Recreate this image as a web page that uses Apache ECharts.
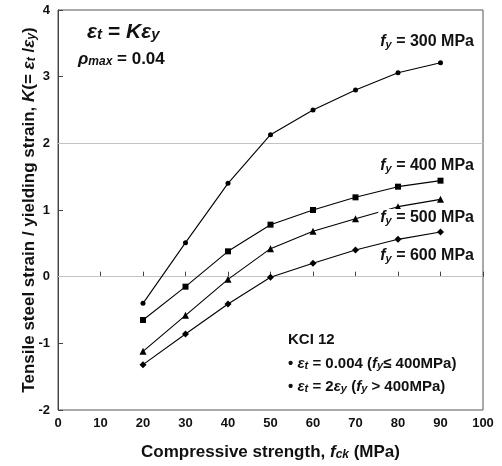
<!DOCTYPE html>
<html><head><meta charset="utf-8">
<script src="https://cdn.jsdelivr.net/npm/echarts@6/dist/echarts.min.js"></script>
<style>html,body{margin:0;padding:0;background:#fff}#c{width:502px;height:466px}</style>
</head><body><div id="c"></div>
<script>
const fck = [20, 30, 40, 50, 60, 70, 80, 90];
const k300 = [-0.40, 0.51, 1.40, 2.13, 2.50, 2.80, 3.06, 3.21];
const k400 = [-0.65, -0.15, 0.38, 0.78, 1.00, 1.19, 1.35, 1.44];
const k500 = [-1.12, -0.58, -0.04, 0.42, 0.68, 0.87, 1.05, 1.16];
const k600 = [-1.32, -0.86, -0.41, -0.01, 0.20, 0.40, 0.56, 0.67];
const seriesNames = ['300', '400', '500', '600'];
const seriesVals = [k300, k400, k500, k600];
const symbols = ['circle', 'rect', 'triangle', 'diamond'];
const symSizes = [5, 6, 7, 7];

const F = '"Liberation Sans", Arial, sans-serif';
const C = '#111';
function rich(sz) {
  return {
    n: {fontSize: sz, fontWeight: 'bold', fontFamily: F, fill: C, color: C},
    i: {fontSize: sz, fontWeight: 'bold', fontStyle: 'italic', fontFamily: F, fill: C, color: C},
    s: {fontSize: Math.round(sz * 0.7), fontWeight: 'bold', fontStyle: 'italic', fontFamily: F, fill: C, color: C, verticalAlign: 'bottom'}
  };
}

const chart = echarts.init(document.getElementById('c'), null, {renderer: 'canvas'});
const series = seriesVals.map((v, k) => ({
  name: seriesNames[k],
  type: 'line',
  data: fck.map((x, i) => [x, v[i]]),
  symbol: symbols[k],
  symbolSize: symSizes[k],
  showAllSymbol: true,
  lineStyle: {color: '#000', width: 1.1},
  itemStyle: {color: '#000'},
  z: 3,
  animation: false
}));
series[0].markLine = {
  silent: true, symbol: 'none', label: {show: false},
  lineStyle: {color: '#c4c4c4', width: 1, type: 'solid'},
  data: [{yAxis: 0}, {yAxis: 2}],
  z: 1, animation: false
};

function txt(x, y, text, sz, align) {
  return {type: 'text', x: x, y: y, z: 100,
    style: {text: text, rich: rich(sz), align: align || 'left', verticalAlign: 'middle',
      backgroundColor: '#fff', padding: [1, 2, 1, 2]}};
}

chart.setOption({
  animation: false,
  grid: {left: 58, right: 19, top: 10, bottom: 56, show: true, borderColor: '#555', borderWidth: 1},
  xAxis: {
    type: 'value', min: 0, max: 100, interval: 10,
    axisLine: {show: true, lineStyle: {color: '#444', width: 1}},
    axisTick: {show: true, inside: true, length: 5, lineStyle: {color: '#444'}},
    splitLine: {show: false},
    axisLabel: {color: C, fontFamily: F, fontWeight: 'bold', fontSize: 13, margin: 7},
    name: '{n|Compressive strength, }{i|f}{s|ck}{n| (MPa)}',
    nameLocation: 'middle', nameGap: 34, nameMoveOverlap: false,
    nameTextStyle: {rich: rich(17)}
  },
  yAxis: {
    type: 'value', min: -2, max: 4, interval: 1,
    axisLine: {show: true, lineStyle: {color: '#444', width: 1}},
    axisTick: {show: true, inside: true, length: 5, lineStyle: {color: '#444'}},
    splitLine: {show: false},
    axisLabel: {color: C, fontFamily: F, fontWeight: 'bold', fontSize: 13, margin: 8},
    name: '{n|Tensile steel strain / yielding strain, }{i|K}{n|(= }{i|ε}{s|t}{n| /}{i|ε}{s|y}{n|)}',
    nameLocation: 'middle', nameGap: 20, nameMoveOverlap: false,
    nameTextStyle: {rich: rich(17)}
  },
  series: series,
  graphic: [
    txt(85, 32, '{i|ε}{s|t}{n| = }{i|Kε}{s|y}', 21),
    txt(76, 59, '{i|ρ}{s|max}{n| = 0.04}', 17),
    txt(476, 42, '{i|f}{s|y}{n| = 300 MPa}', 16, 'right'),
    txt(476, 166, '{i|f}{s|y}{n| = 400 MPa}', 16, 'right'),
    txt(476, 218, '{i|f}{s|y}{n| = 500 MPa}', 16, 'right'),
    txt(476, 256, '{i|f}{s|y}{n| = 600 MPa}', 16, 'right'),
    txt(286, 340, '{n|KCI 12}', 15),
    txt(286, 364, '{n|• }{i|ε}{s|t}{n| = 0.004 (}{i|f}{s|y}{n|≤ 400MPa)}', 15),
    txt(286, 387, '{n|• }{i|ε}{s|t}{n| = 2}{i|ε}{s|y}{n| (}{i|f}{s|y}{n| > 400MPa)}', 15)
  ]
});
</script></body></html>
